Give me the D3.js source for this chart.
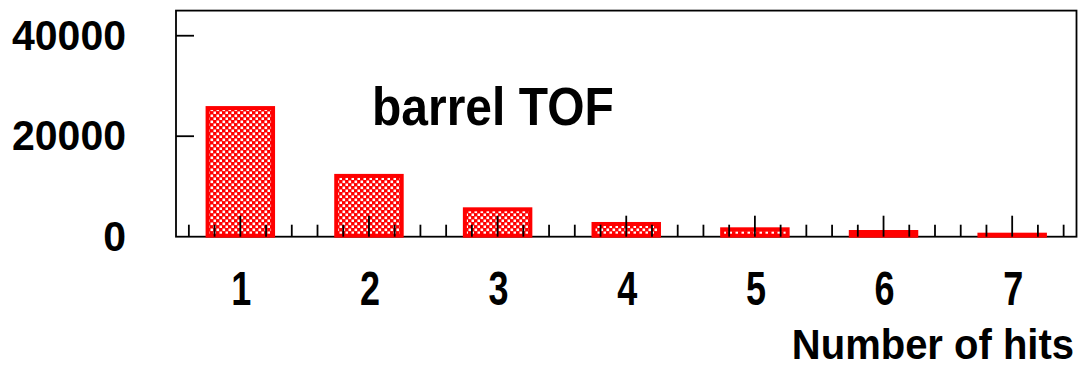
<!DOCTYPE html>
<html>
<head>
<meta charset="utf-8">
<script src="https://cdn.jsdelivr.net/npm/d3@7"></script>
<style>
  html, body { margin: 0; padding: 0; background: #fff; }
  svg { display: block; }
  text { font-family: "Liberation Sans", Arial, Helvetica, sans-serif; font-weight: bold; fill: #000; }
</style>
</head>
<body>
<svg id="chart" width="1081" height="368"></svg>
<script>
// Hit multiplicity in the barrel TOF
const hits = [1, 2, 3, 4, 5, 6, 7];
const counts = [25600, 12100, 5450, 2530, 1470, 935, 400];
const yTicks = [0, 20000, 40000];
const title = "barrel TOF";
const xTitle = "Number of hits";

const svg = d3.select("#chart");
const padL = 176, padR = 1076.5, padT = 10.6, padB = 236.7;

const x = d3.scaleLinear().domain([0.5, 7.5]).range([padL, padR]);
const y = d3.scaleLinear().domain([0, 45000]).range([padB, padT]);

// cross-hatch style fill: red with a grid of small white squares
const defs = svg.append("defs");
const pat = defs.append("pattern")
  .attr("id", "hatch").attr("patternUnits", "userSpaceOnUse")
  .attr("width", 6).attr("height", 6);
pat.append("rect").attr("width", 6).attr("height", 6).attr("fill", "#ff0000");
pat.append("rect").attr("x", 0.5).attr("y", 0.5).attr("width", 2.6).attr("height", 2.6).attr("fill", "#fff");
pat.append("rect").attr("x", 3.5).attr("y", 3.5).attr("width", 2.6).attr("height", 2.6).attr("fill", "#fff");

// frame and axis lines
svg.append("rect")
  .attr("x", padL).attr("y", padT)
  .attr("width", padR - padL).attr("height", padB - padT)
  .attr("fill", "none").attr("stroke", "#000").attr("stroke-width", 1.8);

// bars
const halfW = 0.27;
const sw = 4;
svg.append("g").selectAll("rect").data(hits).join("rect")
  .attr("x", (d) => x(d - halfW) + sw / 2)
  .attr("y", (d, i) => y(counts[i]))
  .attr("width", x(1 + halfW) - x(1 - halfW) - sw)
  .attr("height", (d, i) => Math.max(0, y(0) - y(counts[i]) - sw / 2 + 1))
  .attr("fill", "url(#hatch)")
  .attr("stroke", "#ff0000")
  .attr("stroke-width", sw)
  .attr("stroke-linejoin", "miter");

// x ticks: major at integers, minor every 0.2
const xMinor = d3.range(6, 75, 2).map((v) => v / 10).filter((v) => Math.abs(v - Math.round(v)) > 1e-6);
const tickG = svg.append("g").attr("stroke", "#000").attr("stroke-width", 1.8);
tickG.selectAll("line.minor").data(xMinor).join("line").attr("class", "minor")
  .attr("x1", (d) => x(d)).attr("x2", (d) => x(d))
  .attr("y1", padB).attr("y2", padB - 12);
tickG.selectAll("line.major").data(hits).join("line").attr("class", "major")
  .attr("x1", (d) => x(d)).attr("x2", (d) => x(d))
  .attr("y1", padB).attr("y2", padB - 21);
// y ticks
tickG.selectAll("line.ymajor").data(yTicks.filter((v) => v > 0)).join("line").attr("class", "ymajor")
  .attr("x1", padL).attr("x2", padL + 18)
  .attr("y1", (d) => y(d)).attr("y2", (d) => y(d));

// y tick labels
svg.append("g").selectAll("text").data(yTicks).join("text")
  .attr("text-anchor", "end")
  .attr("font-size", 41)
  .attr("transform", (d) => `translate(126,${y(d) + 14}) scale(1,1.05)`)
  .text((d) => d);

// x tick labels
svg.append("g").selectAll("text").data(hits).join("text")
  .attr("text-anchor", "middle")
  .attr("font-size", 40)
  .attr("transform", (d) => `translate(${x(d) + 1},305) scale(0.9,1.2)`)
  .text((d) => d);

// histogram title inside the frame
svg.append("text")
  .attr("font-size", 48)
  .attr("transform", "translate(372,125) scale(1,1.12)")
  .text(title);

// x-axis title
svg.append("text")
  .attr("text-anchor", "end")
  .attr("font-size", 40)
  .attr("transform", "translate(1074,359) scale(1,1.05)")
  .text(xTitle);
</script>
</body>
</html>
